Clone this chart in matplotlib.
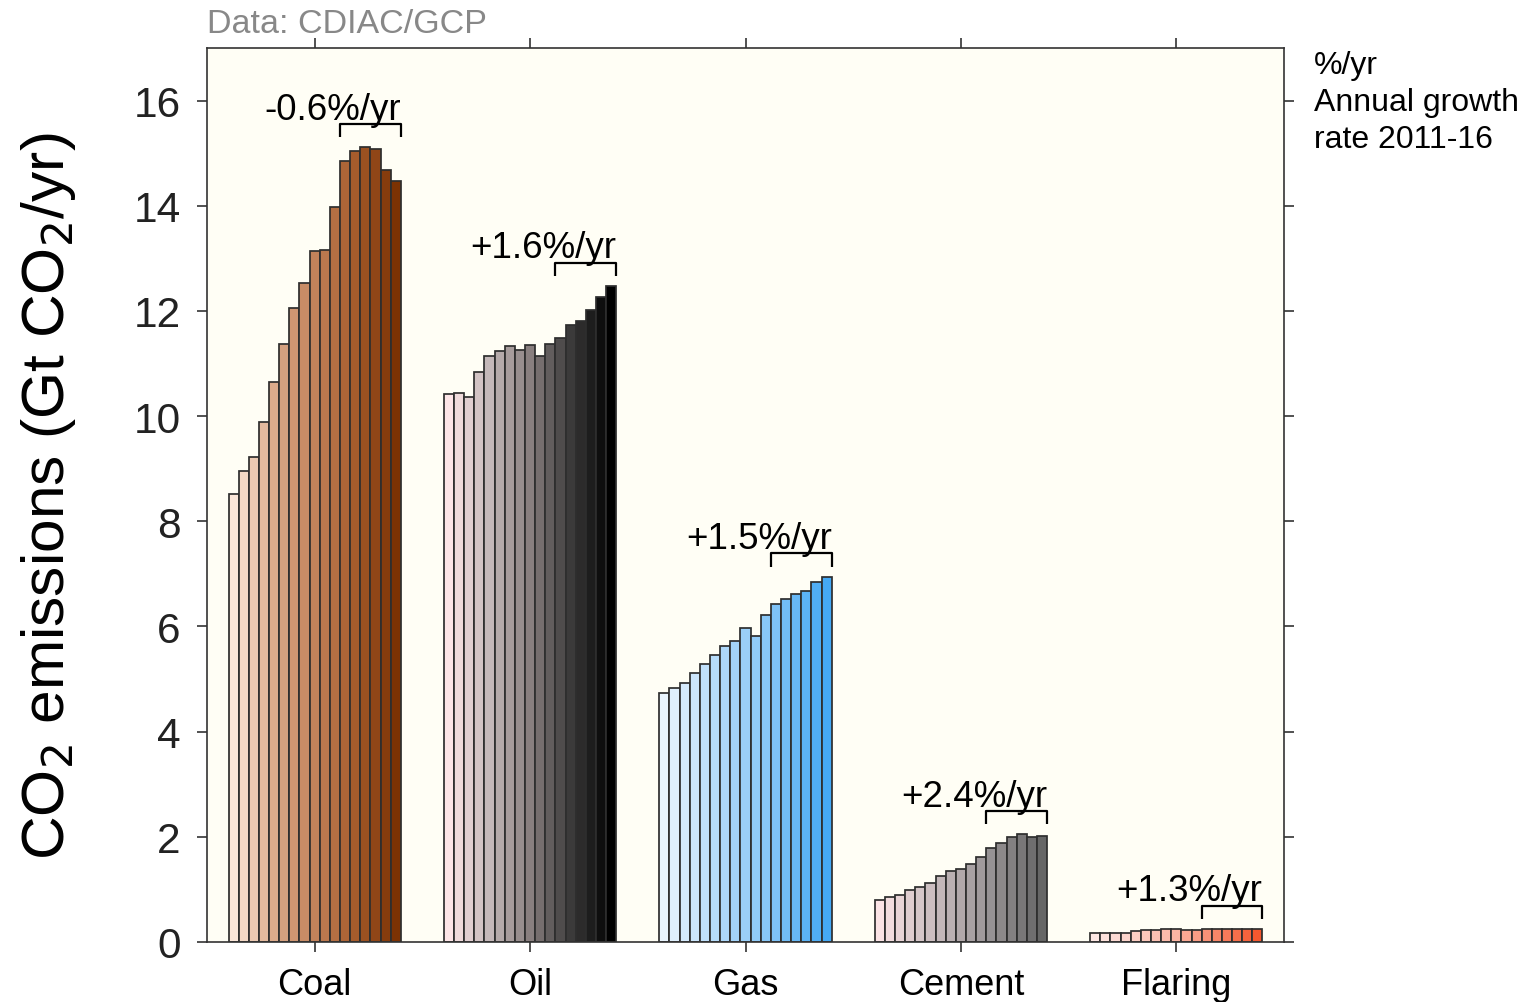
import numpy as np
import matplotlib
matplotlib.use('Agg')
import matplotlib.pyplot as plt
from matplotlib.colors import LinearSegmentedColormap

plt.rcParams['font.family'] = ['Liberation Sans', 'DejaVu Sans']

# Данные: выбросы CO2 по источникам, 2000-2016 (Гт CO2/год)
years = list(range(2000, 2017))
categories = ['Coal', 'Oil', 'Gas', 'Cement', 'Flaring']

coal = [8.52, 8.95, 9.22, 9.88, 10.64, 11.38, 12.06, 12.54, 13.14, 13.15,
        13.97, 14.86, 15.04, 15.11, 15.08, 14.68, 14.47]
oil = [10.43, 10.44, 10.37, 10.84, 11.15, 11.24, 11.33, 11.25, 11.36, 11.14,
       11.38, 11.49, 11.73, 11.80, 12.02, 12.26, 12.48]
gas = [4.73, 4.83, 4.92, 5.12, 5.28, 5.45, 5.62, 5.72, 5.97, 5.81,
       6.22, 6.43, 6.53, 6.62, 6.68, 6.84, 6.95]
cement = [0.80, 0.85, 0.90, 0.98, 1.05, 1.13, 1.26, 1.35, 1.39, 1.49,
          1.61, 1.79, 1.88, 2.00, 2.05, 2.00, 2.01]
flaring = [0.17, 0.17, 0.17, 0.17, 0.20, 0.23, 0.23, 0.25, 0.25, 0.23,
           0.23, 0.25, 0.25, 0.25, 0.25, 0.25, 0.25]

growth_labels = ['-0.6%/yr', '+1.6%/yr', '+1.5%/yr', '+2.4%/yr', '+1.3%/yr']

# Градиенты цветов для каждой группы
gradients = [
    ['#fbe7d9', '#dcab8b', '#c2825a', '#a65c2c', '#7c3203'],
    ['#fde5e7', '#c4b8b9', '#8a8080', '#3c3b3b', '#000000'],
    ['#e9f4fd', '#b3dafa', '#82c4f7', '#45a9f5'],
    ['#fbe3e5', '#c9bcbe', '#9a9597', '#666666'],
    ['#fde7e3', '#fbb5a3', '#f4582f'],
]

series = [coal, oil, gas, cement, flaring]

fig = plt.figure(figsize=(15.34, 10.03), dpi=100)
ax = fig.add_axes([207 / 1534, 1 - 943 / 1003, (1284 - 207) / 1534, (943 - 49) / 1003])
ax.set_facecolor('#fffef5')

n = len(years)
group_width = 0.8
w = group_width / n
offsets = (np.arange(n) - (n - 1) / 2) * w

for i, (vals, grad) in enumerate(zip(series, gradients)):
    cmap = LinearSegmentedColormap.from_list(categories[i], grad)
    cols = [cmap(k / (n - 1)) for k in range(n)]
    x = i + 1 + offsets
    ax.bar(x, vals, width=w, color=cols, edgecolor='#2e2e2e', linewidth=1.25, zorder=2)

    # скобка 2011-2016 и подпись темпа роста
    k0 = years.index(2011)
    xl = x[k0] - w / 2
    xr = x[-1] + w / 2
    ytop = max(vals) + 0.44
    ax.plot([xl, xl, xr, xr], [ytop - 0.25, ytop, ytop, ytop - 0.25],
            color='black', linewidth=1.6, zorder=3, solid_capstyle='butt')
    ax.text(xr, ytop - 0.05, growth_labels[i], ha='right', va='bottom',
            fontsize=26.5, color='black')

ax.set_xlim(0.5, 5.5)
ax.set_ylim(0, 17)
ax.set_xticks(range(1, 6))
ax.set_xticklabels(categories, fontsize=26)
ax.set_yticks(range(0, 17, 2))
ax.set_yticklabels([str(v) for v in range(0, 17, 2)], fontsize=30.5, color='#222222')
ax.tick_params(axis='both', direction='out', length=7, width=1.2, color='#333333')
ax.tick_params(axis='x', top=True, pad=11)
ax.tick_params(axis='y', right=True, pad=12)
for s in ax.spines.values():
    s.set_color('#333333')
    s.set_linewidth(1.2)

ax.set_ylabel('CO$_2$ emissions (Gt CO$_2$/yr)', fontsize=43.5)
ax.yaxis.set_label_coords(-0.12, 0.5)

ax.text(0.0, 1.01, 'Data: CDIAC/GCP', transform=ax.transAxes, ha='left',
        va='bottom', fontsize=24.5, color='#888888', zorder=5)
ax.text(1.028, 0.998, '%/yr\nAnnual growth\nrate 2011-16', transform=ax.transAxes,
        ha='left', va='top', fontsize=23, linespacing=1.3, color='black')

fig.savefig('out.png', dpi=100)
